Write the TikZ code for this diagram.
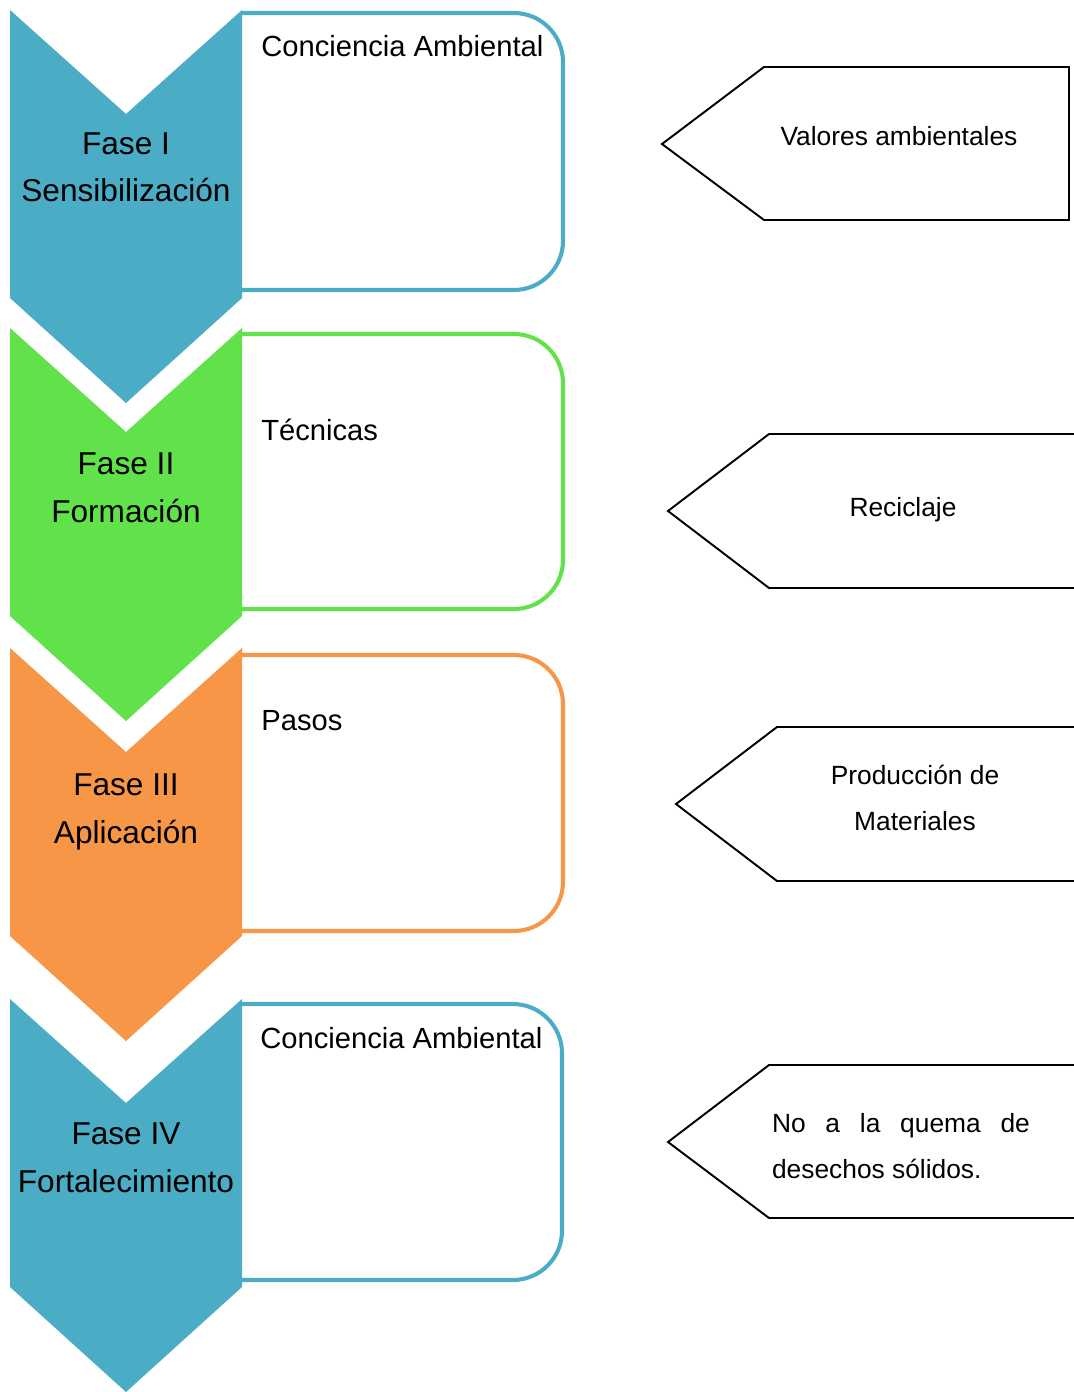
\documentclass[tikz,border=0pt]{standalone}
\usepackage{fontspec}
\setmainfont{Liberation Sans}
\usetikzlibrary{positioning}
\definecolor{faseblue}{HTML}{4BACC6}
\definecolor{fasegreen}{HTML}{62E24A}
\definecolor{faseorange}{HTML}{F79646}

\begin{document}
\begin{tikzpicture}[x=0.02cm,y=-0.02cm,
  fase/.style={align=center,anchor=base,inner sep=0pt,font=\fontsize{18}{27.2}\selectfont},
  tema/.style={anchor=base west,inner sep=0pt,font=\fontsize{16.6}{20}\selectfont},
  valor/.style={anchor=base,inner sep=0pt,font=\fontsize{15}{26}\selectfont},
  caja/.style={line width=2.3pt,rounded corners=28pt},
  punta/.style={line width=1.1pt,line join=miter}]
\useasboundingbox (0,0) rectangle (1074,1392);

% cajas de contenido
\draw[caja,faseblue]   (242,13)   -- (563,13)   -- (563,290)  -- (242,290);
\draw[caja,fasegreen]  (242,334)  -- (563,334)  -- (563,609)  -- (242,609);
\draw[caja,faseorange] (242,655)  -- (563,655)  -- (563,931)  -- (242,931);
\draw[caja,faseblue]   (242,1004) -- (562,1004) -- (562,1280) -- (242,1280);

% chevrones de fases
\fill[faseblue]   (10,10)   -- (126,114)  -- (242,10)   -- (242,298)  -- (126,403)  -- (10,298)  -- cycle;
\fill[fasegreen]  (10,328)  -- (126,432)  -- (242,328)  -- (242,616)  -- (126,721)  -- (10,616)  -- cycle;
\fill[faseorange] (10,648)  -- (126,752)  -- (242,648)  -- (242,936)  -- (126,1041) -- (10,936)  -- cycle;
\fill[faseblue]   (10,999)  -- (126,1103) -- (242,999)  -- (242,1287) -- (126,1392) -- (10,1287) -- cycle;

% base = ultima linea
\node[fase] (fase1) at (126,202)  {Fase I\\Sensibilización};
\node[fase] (fase2) at (126,522)  {Fase II\\Formación};
\node[fase] (fase3) at (126,843)  {Fase III\\Aplicación};
\node[fase] (fase4) at (126,1192) {Fase IV\\Fortalecimiento};

\node[tema] (tema1) at (261,57)   {Conciencia Ambiental};
\node[tema] (tema2) at (261,440)  {Técnicas};
\node[tema] (tema3) at (261,730)  {Pasos};
\node[tema] (tema4) at (260,1048) {Conciencia Ambiental};

% valores
\draw[punta] (1069,67) -- (764,67) -- (662,144) -- (764,220) -- (1069,220) -- cycle;
\draw[punta] (1080,434) -- (769,434) -- (668,511) -- (769,588) -- (1080,588);
\draw[punta] (1080,727) -- (777,727) -- (676,804) -- (777,881) -- (1080,881);
\draw[punta] (1080,1065) -- (769,1065) -- (668,1142) -- (769,1218) -- (1080,1218);

\node[valor] (valor1) at (899,146) {Valores ambientales};
\node[valor] (valor2) at (903,516) {Reciclaje};
\node[valor,align=center] (valor3) at (915,830) {Producción de\\Materiales};
\node[valor,align=left] (valor4) at (901,1178) {\makebox[146.8pt][s]{No a la quema de}\\desechos sólidos.};
\end{tikzpicture}
\end{document}
